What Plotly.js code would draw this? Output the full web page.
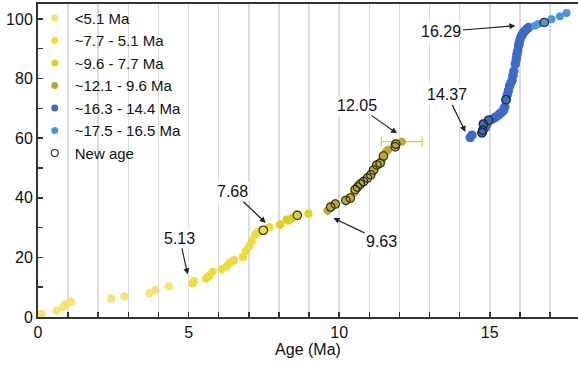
<!DOCTYPE html>
<html>
<head>
<meta charset="utf-8">
<script src="https://cdn.plot.ly/plotly-3.0.1.min.js"></script>
<style>html,body{margin:0;padding:0;background:#fff}#chart{width:578px;height:365px}</style>
</head>
<body>
<div id="chart"></div>
<script>
// ---- data (Age in Ma, depth-like y value) ----
const legendNames = ["<5.1 Ma", "~7.7 - 5.1 Ma", "~9.6 - 7.7 Ma", "~12.1 - 9.6 Ma", "~16.3 - 14.4 Ma", "~17.5 - 16.5 Ma", "New age"];

const g1x = [0.12, 0.62, 0.84, 0.92, 1.10, 2.43, 2.87, 3.70, 3.89, 4.35];
const g1y = [1.0, 2.1, 3.4, 4.3, 5.1, 6.2, 6.9, 8.0, 9.0, 10.2];

const g2x = [5.14, 5.18, 5.58, 5.69, 5.79, 6.10, 6.27, 6.38, 6.51, 6.80, 6.90, 7.02, 7.12, 7.21, 7.29, 7.48, 7.68];
const g2y = [11.3, 12.0, 12.9, 13.8, 15.2, 16.0, 17.1, 18.2, 19.0, 20.1, 22.1, 23.8, 25.7, 27.7, 28.4, 29.1, 30.1];

const g3x = [8.04, 8.26, 8.32, 8.43, 8.61, 8.98];
const g3y = [31.0, 32.7, 32.4, 33.2, 34.1, 34.7];

const g4x = [9.62, 9.72, 9.87, 10.22, 10.37, 10.50, 10.53, 10.61, 10.70, 10.81, 10.94, 11.05, 11.14, 11.20, 11.25, 11.36, 11.42, 11.47, 11.56, 11.62, 11.86, 11.88, 12.08];
const g4y = [35.7, 36.9, 37.9, 39.1, 39.9, 41.8, 42.7, 43.6, 44.6, 45.4, 46.6, 47.7, 49.3, 50.0, 51.0, 51.6, 52.7, 54.0, 55.4, 56.0, 57.1, 58.0, 58.8];
const g4errMinus = [0,0,0,0,0,0,0,0,0,0,0,0,0,0,0,0,0,0,0,0,0,0,0.68];
const g4errPlus  = [0,0,0,0,0,0,0,0,0,0,0,0,0,0,0,0,0,0,0,0,0,0,0.67];

const g5x = [14.35, 14.41, 14.74, 14.77, 14.79, 14.85, 14.90, 14.96, 15.05, 15.13, 15.20, 15.29, 15.35, 15.42, 15.46, 15.50, 15.54, 15.58, 15.62, 15.66, 15.70, 15.74, 15.77, 15.80, 15.85, 15.88, 15.90, 15.93, 15.96, 15.98, 16.01, 16.05, 16.08, 16.12, 16.17, 16.22, 16.29];
const g5y = [60.2, 61.0, 61.8, 62.7, 64.7, 63.5, 64.5, 66.0, 66.2, 66.6, 67.1, 67.7, 68.3, 69.0, 69.3, 70.5, 72.9, 74.5, 76.0, 77.5, 78.5, 79.3, 81.0, 82.5, 84.9, 86.5, 88.0, 89.3, 91.0, 92.0, 93.2, 94.2, 94.8, 95.4, 96.0, 96.5, 97.1];

const g6x = [16.50, 16.61, 16.81, 17.05, 17.33, 17.55];
const g6y = [97.7, 98.3, 98.8, 99.9, 100.9, 102.0];

const newX = [7.48, 8.61, 9.72, 9.87, 10.22, 10.37, 10.53, 10.61, 10.70, 10.81, 10.94, 11.05, 11.14, 11.25, 11.36, 11.47, 11.86, 11.88, 14.74, 14.77, 14.79, 14.96, 15.54, 16.81];
const newY = [29.1, 34.1, 36.9, 37.9, 39.1, 39.9, 42.7, 43.6, 44.6, 45.4, 46.6, 47.7, 49.3, 51.0, 51.6, 54.0, 57.1, 58.0, 61.8, 62.7, 64.7, 66.0, 72.9, 98.8];

const labelAges = ["5.13", "7.68", "9.63", "12.05", "14.37", "16.29"];
const labelX = [4.97, 7.56, 9.81, 11.92, 14.19, 15.85];
const labelY = [14.3, 31.6, 33.2, 61.6, 62.1, 97.7];

const xTickVals = [0, 5, 10, 15];
const yTickVals = [0, 20, 40, 60, 80, 100];

// ---- styles ----
const colors = ["#f4e570", "#eedb3e", "#e2cf22", "#bda92a", "#3b6cc5", "#4e94dc"];
const FONT = "Liberation Sans, Arial, Helvetica, sans-serif";
const MS = 8.5;

function pts(x, y, c, extra) {
  return Object.assign({x: x, y: y, type: "scatter", mode: "markers", showlegend: false,
    hoverinfo: "skip", marker: {color: c, size: MS, line: {width: 0}}}, extra || {});
}
function leg(name, marker) {
  return {x: [null], y: [null], type: "scatter", mode: "markers", name: name, marker: marker};
}

const traces = [
  pts(g1x, g1y, colors[0]),
  pts(g2x, g2y, colors[1]),
  pts(g3x, g3y, colors[2]),
  pts(g4x, g4y, colors[3], {error_x: {type: "data", symmetric: false, array: g4errPlus, arrayminus: g4errMinus, color: "#e2cf22", thickness: 1.3, width: 5}}),
  pts(g5x, g5y, colors[4], {marker: {color: colors[4], size: 9.5, line: {width: 0}}, error_x: {type: "constant", value: 0.07, color: "#6ea6e6", thickness: 1, width: 0}}),
  pts(g6x, g6y, colors[5], {marker: {color: colors[5], size: 8, line: {width: 0}}, error_x: {type: "constant", value: 0.05, color: "#7fb2ea", thickness: 1, width: 0}}),
  {x: newX, y: newY, type: "scatter", mode: "markers", showlegend: false, hoverinfo: "skip",
    marker: {symbol: "circle-open", size: MS, color: "#222", line: {width: 1.1, color: "#222"}}},
];
for (let i = 0; i < 6; i++) traces.push(leg(legendNames[i], {color: colors[i], size: 7}));
traces.push(leg(legendNames[6], {symbol: "circle-open", size: 7, color: "#222", line: {width: 1.1, color: "#222"}}));

const offsets = [[-8, -36], [-33, -31], [48, 23], [-40, -28], [-18, -37], [-74, 6]];
const annotations = labelAges.map((t, i) => ({
  x: labelX[i], y: labelY[i], xref: "x", yref: "y", text: t, showarrow: true,
  ax: offsets[i][0], ay: offsets[i][1], axref: "pixel", ayref: "pixel",
  arrowhead: 2, arrowsize: 1, arrowwidth: 1.2, arrowcolor: "#222",
  bgcolor: "#ffffff", borderpad: 1,
  font: {family: FONT, size: 16, color: "#111"}
}));

const layout = {
  width: 578, height: 365,
  margin: {l: 38, r: 0, t: 4, b: 48},
  paper_bgcolor: "#fff", plot_bgcolor: "#fff",
  font: {family: FONT, size: 16, color: "#222"},
  showlegend: true,
  legend: {x: -0.006, y: 1.007, xanchor: "left", yanchor: "top", bgcolor: "rgba(0,0,0,0)",
    font: {family: FONT, size: 15, color: "#111"}, itemsizing: "trace", tracegroupgap: 0},
  xaxis: {
    range: [0, 17.93], tickvals: xTickVals, ticks: "inside", ticklen: 5, tickwidth: 1.5, tickcolor: "#333",
    showline: true, linecolor: "#333", linewidth: 2, mirror: true, zeroline: false,
    showgrid: true, gridcolor: "#dcdcdc", gridwidth: 1.5,
    minor: {dtick: 1, tick0: 0, ticks: "inside", ticklen: 5, tickwidth: 1.5, tickcolor: "#333", showgrid: true, gridcolor: "#dcdcdc", gridwidth: 1.5},
    title: {text: "Age (Ma)", font: {family: FONT, size: 16, color: "#111"}, standoff: 4},
    tickfont: {family: FONT, size: 16, color: "#111"}
  },
  yaxis: {
    range: [0, 105], tickvals: yTickVals, ticks: "inside", ticklen: 5, tickwidth: 1.5, tickcolor: "#333",
    showline: true, linecolor: "#333", linewidth: 2, mirror: false, zeroline: false, showgrid: false,
    minor: {dtick: 10, tick0: 0, ticks: "inside", ticklen: 5, tickwidth: 1.5, tickcolor: "#333", showgrid: false},
    tickfont: {family: FONT, size: 16, color: "#111"}
  },
  annotations: annotations
};

Plotly.newPlot("chart", traces, layout, {staticPlot: true, displayModeBar: false});
</script>
</body>
</html>
